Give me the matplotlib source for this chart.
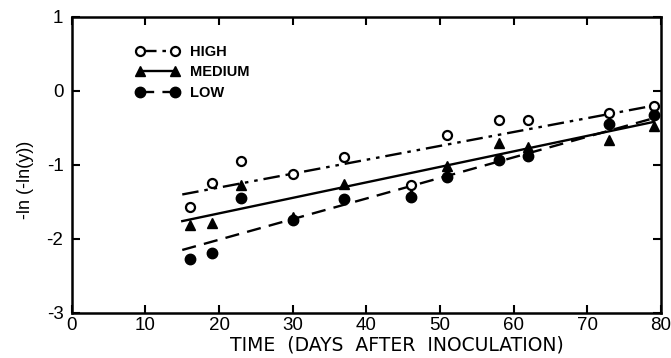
import matplotlib
matplotlib.use("Agg")
import matplotlib.pyplot as plt
from matplotlib.lines import Line2D

plt.rcParams['font.family'] = ['Liberation Sans', 'DejaVu Sans']

# days after inoculation
days = [16, 19, 23, 30, 37, 46, 51, 58, 62, 73, 79]
high = [-1.57, -1.24, -0.95, -1.12, -0.89, -1.27, -0.59, -0.39, -0.40, -0.30, -0.20]
medium = [-1.81, -1.78, -1.27, -1.70, -1.26, -1.40, -1.01, -0.70, -0.76, -0.67, -0.47]
low = [-2.27, -2.19, -1.45, -1.75, -1.46, -1.44, -1.17, -0.94, -0.88, -0.45, -0.32]

# fitted lines at the ends
fit_days = [15, 79]
high_fit = [-1.40, -0.20]
medium_fit = [-1.76, -0.42]
low_fit = [-2.15, -0.37]

dashdotdot = (0, (7, 2.5, 1.5, 2.5, 1.5, 2.5))
dashed = (0, (6, 3.5))

fig = plt.figure(figsize=(6.71, 3.58), dpi=100)
ax = fig.add_axes([0.107, 0.126, 0.878, 0.827])

ax.plot(fit_days, high_fit, color="black", lw=1.7, linestyle=dashdotdot)
ax.plot(fit_days, medium_fit, color="black", lw=1.7, linestyle="-")
ax.plot(fit_days, low_fit, color="black", lw=1.7, linestyle=dashed)

ax.plot(days, high, "o", ms=6.5, mfc="white", mec="black", mew=1.6, ls="none")
ax.plot(days, medium, "^", ms=7.5, color="black", ls="none")
ax.plot(days, low, "o", ms=7.5, color="black", ls="none")

handles = [
    Line2D([], [], color="black", lw=1.7, linestyle=dashdotdot, marker="o",
           ms=6.5, mfc="white", mec="black", mew=1.6),
    Line2D([], [], color="black", lw=1.7, linestyle="-", marker="^", ms=7.5),
    Line2D([], [], color="black", lw=1.7, linestyle=dashed, marker="o", ms=7.5),
]
leg = ax.legend(handles, ["HIGH", "MEDIUM", "LOW"], loc="upper left",
                bbox_to_anchor=(0.086, 0.95), frameon=False, numpoints=2,
                handlelength=3.0, handletextpad=0.7, labelspacing=0.45,
                prop={"weight": "bold", "size": 10.5})

ax.set_xlim(0, 80)
ax.set_ylim(-3, 1)
ax.set_xticks(range(0, 81, 10))
ax.set_yticks([-3, -2, -1, 0, 1])
ax.set_yticklabels(["-3", "-2", "-1", "0", "1"])
ax.tick_params(direction="in", length=6, width=1.5, top=True, right=True,
               labelsize=13.5)
ax.tick_params(axis="x", pad=3)
ax.tick_params(axis="y", pad=6)
for s in ax.spines.values():
    s.set_linewidth(1.8)

ax.set_xlabel("TIME  (DAYS  AFTER  INOCULATION)", fontsize=13.5,
              family="DejaVu Sans", va="bottom")
ax.xaxis.set_label_coords(0.552, -0.14)
ax.set_ylabel("-ln (-ln(y))", fontsize=13)
ax.yaxis.set_label_coords(-0.065, 0.45)

fig.savefig("out.png", dpi=100)
